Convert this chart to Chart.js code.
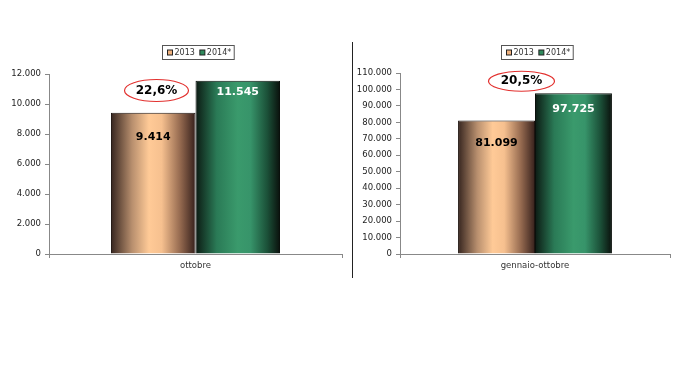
<!DOCTYPE html>
<html>
<head>
<meta charset="utf-8">
<script src="https://cdn.jsdelivr.net/npm/chart.js@4/dist/chart.umd.min.js"></script>
<style>
  body { margin: 0; background: #fff; width: 680px; height: 365px; position: relative; overflow: hidden; }
  canvas { position: absolute; top: 0; }
  #left { left: 0; }
  #right { left: 355px; }
  #sep { position: absolute; left: 352px; top: 42px; width: 1px; height: 236px; background: #222; }
</style>
</head>
<body>
<canvas id="left" width="345" height="300"></canvas>
<div id="sep"></div>
<canvas id="right" width="325" height="300"></canvas>
<script>
const seriesLabels = ["2013", "2014*"];
const monthCategory = ["ottobre"];
const month2013 = [9414];
const month2014 = [11545];
const ytdCategory = ["gennaio-ottobre"];
const ytd2013 = [81099];
const ytd2014 = [97725];
const monthAxis = { max: 12000, step: 2000 };
const ytdAxis = { max: 110000, step: 10000 };

const FONT = "'DejaVu Sans', Verdana, sans-serif";

const stops2013 = [[0, "#36251f"], [0.25, "#b88f6e"], [0.45, "#ffca97"], [0.6, "#f6c08f"], [0.82, "#94694f"], [1, "#36201c"]];
const stops2014 = [[0, "#0c1a13"], [0.25, "#2a7a56"], [0.5, "#3a9a6c"], [0.65, "#37946a"], [0.85, "#1b5038"], [1, "#0a100c"]];

function fmt(v) {
  return String(v).replace(/\B(?=(\d{3})+(?!\d))/g, ".");
}

// horizontal gradient across each bar, worked out from the x scale
function barGradient(stops, fallback) {
  return (ctx) => {
    const chart = ctx.chart;
    const x = chart.scales.x;
    if (!x || ctx.type !== "data") return fallback;
    const catPct = chart.options.datasets.bar.categoryPercentage;
    const catW = x.width / chart.data.labels.length;
    const barW = catW * catPct / chart.data.datasets.length;
    const left = x.getPixelForValue(ctx.dataIndex) - catW * catPct / 2 + ctx.datasetIndex * barW;
    if (!isFinite(left) || !isFinite(barW) || barW <= 0) return fallback;
    const g = chart.ctx.createLinearGradient(left, 0, left + barW, 0);
    stops.forEach((s) => g.addColorStop(s[0], s[1]));
    return g;
  };
}

const extras = {
  id: "extras",
  afterDraw(chart) {
    const c = chart.ctx;
    const cfg = chart.options.plugins.extras;
    const area = chart.chartArea;

    // value labels inside the bars
    chart.data.datasets.forEach((ds, di) => {
      chart.getDatasetMeta(di).data.forEach((bar, i) => {
        c.save();
        c.font = "bold 11px " + FONT;
        c.fillStyle = di === 0 ? "#000" : "#fff";
        c.textAlign = "center";
        c.textBaseline = "middle";
        c.fillText(fmt(ds.data[i]), bar.x, bar.y + cfg.labelOffset[di]);
        c.restore();
      });
    });

    // growth percentage in a red ellipse
    const a = chart.data.datasets[0].data[0];
    const b = chart.data.datasets[1].data[0];
    const pct = ((b / a - 1) * 100).toFixed(1).replace(".", ",") + "%";
    const ex = chart.scales.x.getPixelForValue(0) + cfg.pctDx;
    const ey = chart.scales.y.getPixelForValue(cfg.pctValue);
    c.save();
    c.beginPath();
    c.ellipse(ex, ey, cfg.rx, cfg.ry, 0, 0, Math.PI * 2);
    c.strokeStyle = "#e2302e";
    c.lineWidth = 1.2;
    c.stroke();
    c.font = "bold 12px " + FONT;
    c.fillStyle = "#000";
    c.textAlign = "center";
    c.textBaseline = "middle";
    c.fillText(pct, ex, ey);
    c.restore();

    // boxed legend
    c.save();
    c.font = "8px " + FONT;
    const marks = ["#f0b27e", "#2e8a5c"];
    const widths = chart.data.datasets.map((ds) => c.measureText(ds.label).width);
    const total = 5 + widths.reduce((s, w) => s + 5 + 2 + w, 0) + 5 + 3;
    const lx = Math.round((area.left + area.right) / 2 + 2 - total / 2) + 0.5;
    const ly = 45.5;
    c.fillStyle = "#fff";
    c.fillRect(lx, ly, total, 14);
    c.strokeStyle = "#555";
    c.lineWidth = 1;
    c.strokeRect(lx, ly, total, 14);
    let px = lx + 5;
    chart.data.datasets.forEach((ds, di) => {
      c.fillStyle = marks[di];
      c.fillRect(px, ly + 4.5, 5, 5);
      c.strokeStyle = "#222";
      c.strokeRect(px, ly + 4.5, 5, 5);
      px += 7;
      c.fillStyle = "#333";
      c.textBaseline = "middle";
      c.fillText(ds.label, px, ly + 7.5);
      px += widths[di] + 5;
    });
    c.restore();
  }
};

function makeChart(id, labels, a, b, axis, cfg) {
  return new Chart(document.getElementById(id), {
    type: "bar",
    data: {
      labels: labels,
      datasets: [
        { label: seriesLabels[0], data: a, backgroundColor: barGradient(stops2013, "#ffca97"), borderColor: "#1e1410", borderWidth: 1 },
        { label: seriesLabels[1], data: b, backgroundColor: barGradient(stops2014, "#3a9a6c"), borderColor: "#0a100c", borderWidth: 1 }
      ]
    },
    options: {
      responsive: false,
      animation: false,
      layout: { padding: { top: cfg.top, right: cfg.right, left: 0, bottom: 0 } },
      datasets: { bar: { categoryPercentage: cfg.catPct, barPercentage: 1 } },
      plugins: {
        legend: { display: false },
        tooltip: { enabled: false },
        extras: cfg
      },
      scales: {
        x: {
          grid: { display: true, drawOnChartArea: false, tickLength: 4, color: "#888", offset: true },
          border: { color: "#888" },
          ticks: { font: { family: FONT, size: 8.5 }, color: "#333", padding: 3 },
          afterFit: (s) => { s.height = 46; }
        },
        y: {
          min: 0,
          max: axis.max,
          ticks: { stepSize: axis.step, callback: (v) => fmt(v), font: { family: FONT, size: 8.5 }, color: "#222", padding: 4 },
          grid: { drawOnChartArea: false, tickLength: 4, color: "#888" },
          border: { color: "#888" },
          afterFit: (s) => { s.width = cfg.axisW; }
        }
      }
    },
    plugins: [extras]
  });
}

makeChart("left", monthCategory, month2013, month2014, monthAxis, {
  top: 74, right: 3, axisW: 49, catPct: 0.577,
  labelOffset: [24, 11], pctDx: -39, pctValue: 10900, rx: 32, ry: 11
});

makeChart("right", ytdCategory, ytd2013, ytd2014, ytdAxis, {
  top: 73, right: 10, axisW: 45, catPct: 0.57,
  labelOffset: [23, 16], pctDx: -13.5, pctValue: 105000, rx: 33, ry: 10
});
</script>
</body>
</html>
